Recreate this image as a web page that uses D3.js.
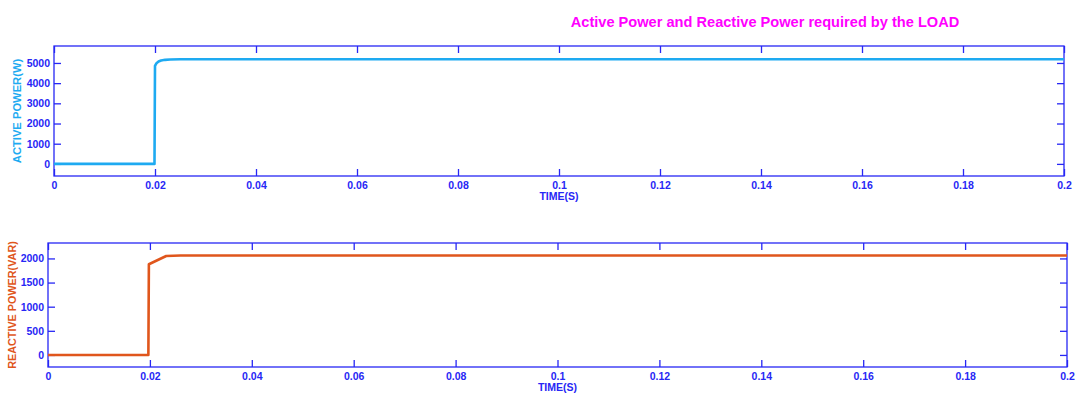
<!DOCTYPE html>
<html>
<head>
<meta charset="utf-8">
<script src="https://cdn.jsdelivr.net/npm/d3@7"></script>
<style>
  body { margin: 0; background: #fff; }
  svg text { font-family: Arial, "Liberation Sans", sans-serif; font-weight: bold; }
</style>
</head>
<body>
<div class="chart"></div>
<script>
// data
const xTicks = [0, 0.02, 0.04, 0.06, 0.08, 0.1, 0.12, 0.14, 0.16, 0.18, 0.2];
const activeTicks = [0, 1000, 2000, 3000, 4000, 5000];
const reactiveTicks = [0, 500, 1000, 1500, 2000];

const activeTime  = [0, 0.0199, 0.02, 0.0203, 0.0207, 0.0212, 0.022, 0.023, 0.025, 0.03, 0.2];
const activeValue = [0, 0, 4850, 4990, 5070, 5120, 5155, 5170, 5180, 5185, 5185];

const reactiveTime  = [0, 0.0197, 0.0198, 0.0232, 0.026, 0.2];
const reactiveValue = [0, 0, 1880, 2050, 2060, 2060];

const axisColor = '#2727f5';

const svg = d3.select('.chart').append('svg')
  .attr('width', 1077)
  .attr('height', 397);

svg.append('text')
  .attr('x', 765)
  .attr('y', 27)
  .attr('text-anchor', 'middle')
  .attr('fill', '#ff00ff')
  .style('font-size', '14.6px')
  .text('Active Power and Reactive Power required by the LOAD');

const fmt = d => d === 0 ? '0' : d3.format('~g')(d);

function panel(opts) {
  const x = d3.scaleLinear().domain([0, 0.2]).range([opts.left, opts.right]);
  const y = d3.scaleLinear().domain(opts.yDomain).range([opts.bottom, opts.top]);
  const g = svg.append('g');

  g.append('rect')
    .attr('x', opts.left).attr('y', opts.top)
    .attr('width', opts.right - opts.left)
    .attr('height', opts.bottom - opts.top)
    .attr('fill', 'none')
    .attr('stroke', axisColor)
    .attr('stroke-width', 1.3);

  // ticks point inward on all four sides
  const xb = g.append('g')
    .attr('transform', `translate(0,${opts.bottom})`)
    .call(d3.axisBottom(x).tickValues(xTicks).tickFormat(fmt).tickSizeInner(-7).tickSizeOuter(0).tickPadding(6));
  const xt = g.append('g')
    .attr('transform', `translate(0,${opts.top})`)
    .call(d3.axisTop(x).tickValues(xTicks).tickFormat('').tickSizeInner(-7).tickSizeOuter(0));
  const yl = g.append('g')
    .attr('transform', `translate(${opts.left},0)`)
    .call(d3.axisLeft(y).tickValues(opts.yTicks).tickFormat(fmt).tickSizeInner(-7).tickSizeOuter(0).tickPadding(4));
  const yr = g.append('g')
    .attr('transform', `translate(${opts.right},0)`)
    .call(d3.axisRight(y).tickValues(opts.yTicks).tickFormat('').tickSizeInner(-7).tickSizeOuter(0));

  [xb, xt, yl, yr].forEach(a => {
    a.select('.domain').remove();
    a.selectAll('line').attr('stroke', axisColor).attr('stroke-width', 1.3);
    a.selectAll('text').attr('fill', axisColor).style('font-size', '10.5px');
  });

  g.append('text')
    .attr('x', (opts.left + opts.right) / 2)
    .attr('y', opts.bottom + 24)
    .attr('text-anchor', 'middle')
    .attr('fill', axisColor)
    .style('font-size', '10.5px')
    .text('TIME(S)');

  g.append('text')
    .attr('transform', `translate(${opts.labelX},${(opts.top + opts.bottom) / 2}) rotate(-90)`)
    .attr('text-anchor', 'middle')
    .attr('fill', opts.color)
    .style('font-size', opts.labelSize)
    .text(opts.label);

  const line = d3.line()
    .x(d => x(d[0]))
    .y(d => y(d[1]));

  g.append('path')
    .datum(opts.time.map((t, i) => [t, opts.values[i]]))
    .attr('d', line)
    .attr('fill', 'none')
    .attr('stroke', opts.color)
    .attr('stroke-width', 2.6)
    .attr('stroke-linejoin', 'round');
}

panel({
  left: 54, right: 1064, top: 46, bottom: 176,
  yDomain: [-600, 5840], yTicks: activeTicks,
  time: activeTime, values: activeValue,
  color: '#1eaaf1', label: 'ACTIVE POWER(W)', labelX: 21, labelSize: '11.2px'
});

panel({
  left: 48, right: 1067, top: 243, bottom: 367,
  yDomain: [-250, 2320], yTicks: reactiveTicks,
  time: reactiveTime, values: reactiveValue,
  color: '#e0561c', label: 'REACTIVE POWER(VAR)', labelX: 16, labelSize: '10.8px'
});
</script>
</body>
</html>
